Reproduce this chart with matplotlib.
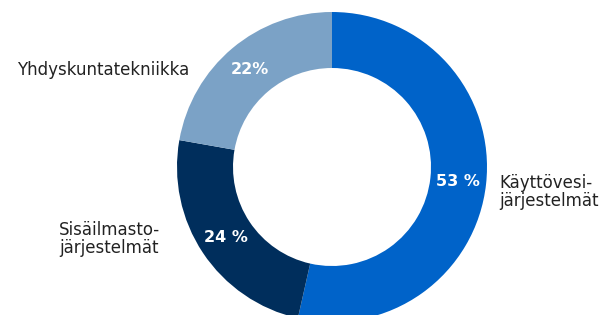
import matplotlib
matplotlib.use("Agg")
import matplotlib.pyplot as plt
import numpy as np

categories = ["Käyttövesi-\njärjestelmät", "Sisäilmasto-\njärjestelmät", "Yhdyskuntatekniikka"]
values = [53, 24, 22]
pct_labels = ["53 %", "24 %", "22%"]
colors = ["#0063C9", "#002E5C", "#7BA2C6"]

W, H = 608, 315
fig = plt.figure(figsize=(W / 100, H / 100), dpi=100)
cx, cy, R = 332, 148, 155
ax = fig.add_axes([(cx - R) / W, (cy - R) / H, 2 * R / W, 2 * R / H])
wedges, _ = ax.pie(values, colors=colors, startangle=90, counterclock=False,
                   radius=1.0, wedgeprops=dict(width=1 - 99 / 155, linewidth=0))
ax.set_xlim(-1, 1)
ax.set_ylim(-1, 1)
ax.set_aspect("equal")
ax.axis("off")

font = "DejaVu Sans"
r_lab = 0.82
for w, lab in zip(wedges, pct_labels):
    ang = np.deg2rad((w.theta1 + w.theta2) / 2)
    ax.text(r_lab * np.cos(ang), r_lab * np.sin(ang), lab, color="white",
            fontsize=11.5, fontweight="bold", family=font, ha="center", va="center")

def px(x, y):
    return ((x - cx) / R, (H - y - cy) / R)

fs = 12
x, y = px(499, 192)
ax.text(x, y, categories[0], fontsize=fs, family=font, color="#222222",
        ha="left", va="center", linespacing=1.02, clip_on=False)
x, y = px(59, 239)
ax.text(x, y, categories[1], fontsize=fs, family=font, color="#222222",
        ha="left", va="center", linespacing=1.02, clip_on=False)
x, y = px(17, 70)
ax.text(x, y, categories[2], fontsize=fs, family=font, color="#222222",
        ha="left", va="center", clip_on=False)

fig.savefig("out.png", dpi=100, facecolor="white")
